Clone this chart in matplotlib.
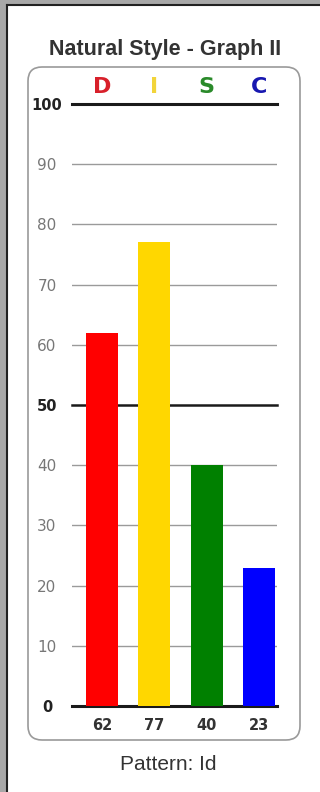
import matplotlib.pyplot as plt
from matplotlib.patches import FancyBboxPatch, Rectangle

# data
letters = ['D', 'I', 'S', 'C']
scores = [62, 77, 40, 23]
bar_colors = ['#ff0000', '#ffd700', '#008000', '#0000ff']
letter_colors = ['#d8202a', '#f2d43a', '#2a8a2a', '#1818b0']
yticks = [0, 10, 20, 30, 40, 50, 60, 70, 80, 90, 100]
title = 'Natural Style - Graph II'
footer = 'Pattern: Id'

W, H = 320, 792
fig = plt.figure(figsize=(W / 100, H / 100), dpi=100)

# background layer in pixel coords
bg = fig.add_axes([0, 0, 1, 1])
bg.set_xlim(0, W)
bg.set_ylim(H, 0)
bg.axis('off')
bg.add_patch(Rectangle((0, 0), 6, H, color='#a8a8a8', lw=0))
bg.add_patch(Rectangle((0, 0), W, 4, color='#a8a8a8', lw=0))
bg.plot([6.5, 6.5], [4.5, H], color='#222222', lw=1.5)
bg.plot([6.5, W], [4.5, 4.5], color='#222222', lw=1.5)
bg.add_patch(FancyBboxPatch((28, 67), 272, 673, boxstyle='round,pad=0,rounding_size=14',
                            fc='white', ec='#9a9a9a', lw=1.2))
bg.text(165, 49, title, ha='center', va='center', fontsize=15.5, fontweight='bold',
        family='Liberation Sans', color='#333333')
bg.text(168, 765, footer, ha='center', va='center', fontsize=15,
        family='Liberation Sans', color='#333333')

# chart
left, right = 72 / W, 277 / W
bottom, top = (H - 706) / H, (H - 104) / H
ax = fig.add_axes([left, bottom, right - left, top - bottom])
ax.set_facecolor('none')
x = list(range(len(letters)))
ax.set_xlim(-0.574, 3.346)
ax.set_ylim(0, 100)

for t in yticks:
    if t in (0, 50, 100):
        ax.axhline(t, color='#1a1a1a', lw=2.2 if t != 50 else 1.8, zorder=1, clip_on=False)
    else:
        ax.axhline(t, color='#9a9a9a', lw=1, zorder=1)

ax.bar(x, scores, width=0.61, color=bar_colors, zorder=2)

for sp in ax.spines.values():
    sp.set_visible(False)
ax.set_xticks([])
ax.set_yticks(yticks)
ax.set_yticklabels([str(t) for t in yticks], ha='center')
ax.tick_params(axis='y', length=0, pad=18)
for lab, t in zip(ax.get_yticklabels(), yticks):
    if t in (0, 50, 100):
        lab.set_fontweight('bold')
        lab.set_color('#222222')
        lab.set_fontsize(10.5)
    else:
        lab.set_color('#777777')
        lab.set_fontsize(11)

for xi, s, l, c in zip(x, scores, letters, letter_colors):
    ax.text(xi, 102.9, l, ha='center', va='center', fontsize=16, fontweight='bold',
            color=c, clip_on=False)
    ax.text(xi, -3.3, str(s), ha='center', va='center', fontsize=10.5, fontweight='bold',
            color='#333333', clip_on=False)

fig.savefig('out.png', dpi=100)
